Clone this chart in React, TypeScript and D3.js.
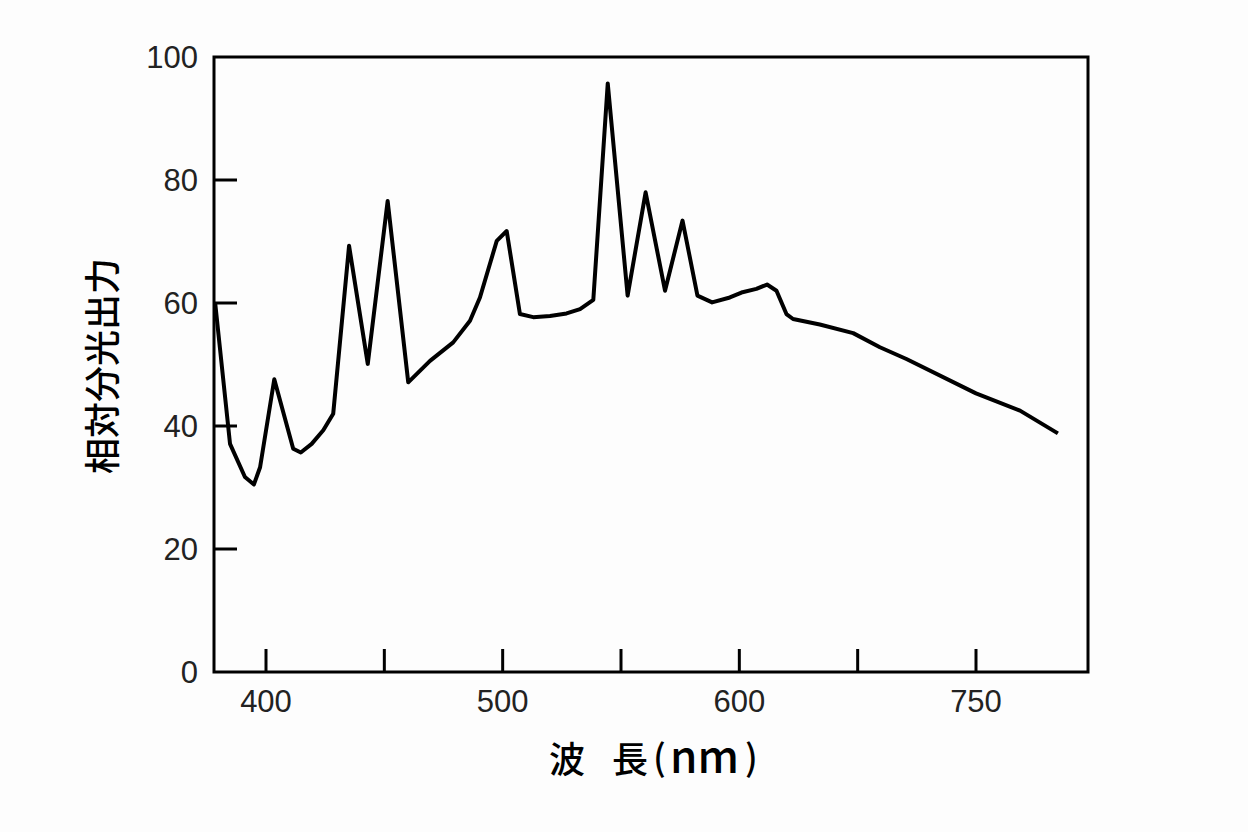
import React from "react";
import * as d3 from "d3";

const wavelengths = [378.5, 384.8, 391.1, 394.9, 397.5, 403.5, 411.5, 414.7, 419.3, 424.2, 428.4, 435.1, 443.0, 451.4, 460.1, 469.3, 479.1, 486.2, 490.4, 497.5, 501.7, 507.3, 512.9, 520.0, 527.0, 532.7, 538.3, 544.4, 552.8, 560.4, 568.6, 576.0, 582.3, 588.5, 596.0, 600.9, 607.2, 611.7, 615.7, 619.9, 622.7, 634.0, 648.1, 659.4, 670.6, 700.0, 718.6, 734.6];
const outputs = [60.1, 37.1, 31.7, 30.5, 33.3, 47.6, 36.3, 35.7, 37.1, 39.3, 42.0, 69.3, 50.1, 76.6, 47.1, 50.6, 53.6, 57.1, 60.9, 70.1, 71.7, 58.2, 57.7, 57.9, 58.3, 59.0, 60.5, 95.7, 61.2, 78.0, 62.0, 73.4, 61.2, 60.1, 60.9, 61.7, 62.3, 63.0, 62.0, 58.2, 57.4, 56.5, 55.1, 52.8, 50.9, 45.3, 42.5, 38.8];

const xTickValues = [400, 450, 500, 550, 600, 650, 700];
const xTickLabels = ["400", "", "500", "", "600", "", "750"];
const yTickValues = [0, 20, 40, 60, 80, 100];

const yTitle = "相対分光出力";
const xTitle = ["波", "長", "(", "nm", ")"];

export default function App() {
  const W = 1248, H = 832;
  const left = 214, right = 1088, top = 57, bottom = 672;
  const x = d3.scaleLinear().domain([400, 700]).range([266, 976]);
  const y = d3.scaleLinear().domain([0, 100]).range([bottom, top]);
  const pts: [number, number][] = wavelengths.map((w, i) => [w, outputs[i]]);
  const line = d3.line<[number, number]>().x(d => x(d[0])).y(d => y(d[1]));
  const numFont = "'Liberation Sans', Arial, sans-serif";
  const cjkFont = "'Noto Sans CJK JP', 'Noto Sans', sans-serif";
  const tickLen = 23;
  return (
    <svg width={W} height={H} style={{ position: "absolute", left: 0, top: 0, background: "#fff" }}>
      <rect x={0} y={0} width={W} height={H} fill="#fdfdfd" />
      {yTickValues.map(v => (
        <g key={"y" + v}>
          {v > 0 && v < 100 && (
            <line x1={left} x2={left + tickLen} y1={y(v)} y2={y(v)} stroke="#000" strokeWidth={3} />
          )}
          <text x={198} y={y(v)} dy="0.36em" textAnchor="end" fontFamily={numFont} fontSize={31} fill="#222">{v}</text>
        </g>
      ))}
      {xTickValues.map((v, i) => (
        <g key={"x" + v}>
          <line x1={x(v)} x2={x(v)} y1={bottom} y2={bottom - tickLen} stroke="#000" strokeWidth={3} />
          {xTickLabels[i] && (
            <text x={x(v)} y={712} textAnchor="middle" fontFamily={numFont} fontSize={31} fill="#222">{xTickLabels[i]}</text>
          )}
        </g>
      ))}
      <rect x={left} y={top} width={right - left} height={bottom - top} fill="none" stroke="#000" strokeWidth={3} />
      <path d={line(pts) || ""} fill="none" stroke="#000" strokeWidth={4} strokeLinejoin="round" />
      <text transform={`translate(116,366) rotate(-90)`} textAnchor="middle" fontFamily={cjkFont} fontSize={36} fontWeight={500} fill="#000">{yTitle}</text>
      <text y={773} fontFamily={cjkFont} fontSize={36} fontWeight={500} fill="#000">
        <tspan x={549}>{xTitle[0]}</tspan>
        <tspan x={612}>{xTitle[1]}</tspan>
        <tspan x={653} y={771}>{xTitle[2]}</tspan>
        <tspan x={670} y={773} fontSize={44} fontWeight={500}>{xTitle[3]}</tspan>
        <tspan x={745} y={771}>{xTitle[4]}</tspan>
      </text>
    </svg>
  );
}
